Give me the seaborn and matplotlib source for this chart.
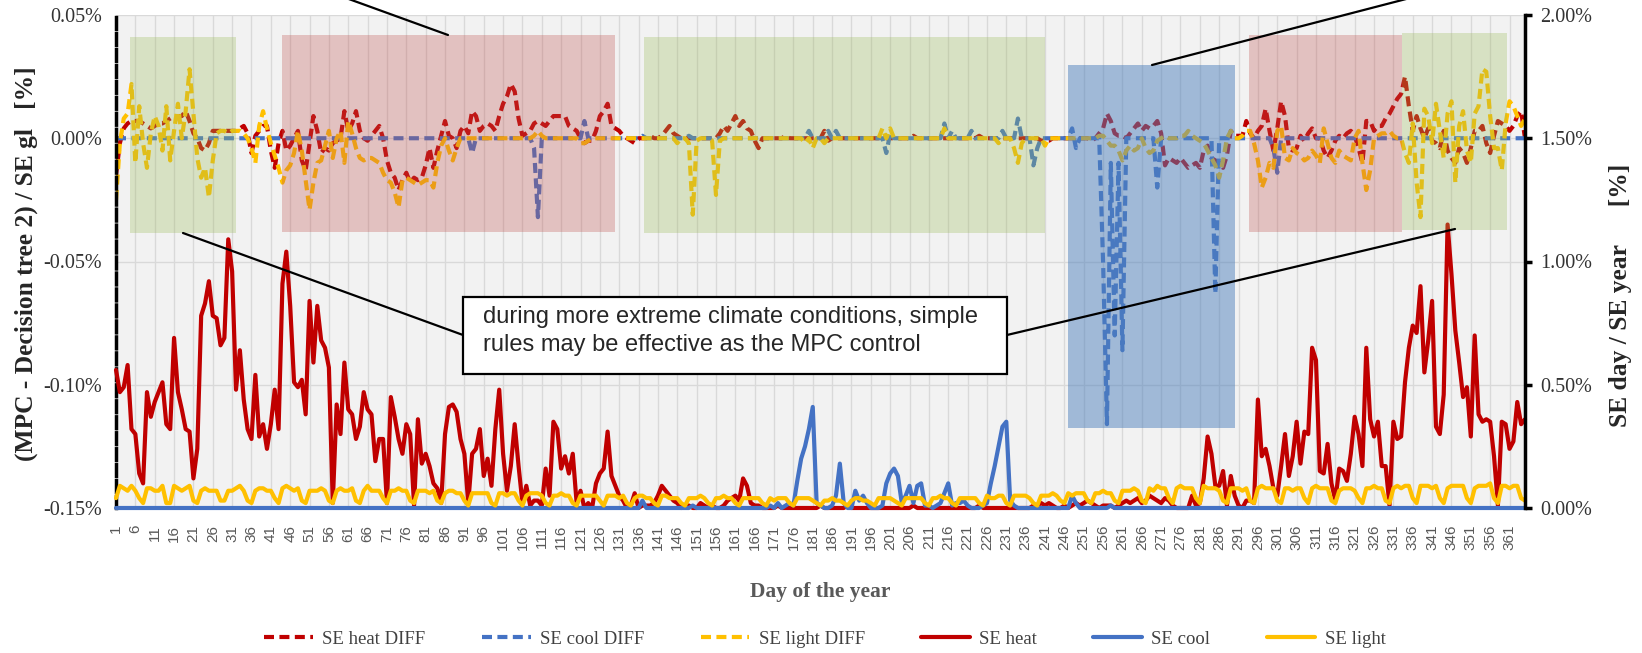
import numpy as np
import pandas as pd
import matplotlib
matplotlib.use("Agg")
import matplotlib.pyplot as plt
from matplotlib.patches import Rectangle
from matplotlib.lines import Line2D
import seaborn as sns

# day of the year (categories on the x axis)
days = np.arange(1, 366)
tick_days = days[::5]

# SE day / SE year [%]  (right axis)
se_heat = [
    0.56, 0.47, 0.49, 0.58, 0.32, 0.30, 0.14, 0.10, 0.47, 0.37,
    0.43, 0.47, 0.51, 0.34, 0.32, 0.69, 0.47, 0.40, 0.32, 0.31,
    0.12, 0.24, 0.78, 0.83, 0.92, 0.78, 0.77, 0.66, 0.69, 1.09,
    0.96, 0.48, 0.64, 0.44, 0.32, 0.28, 0.54, 0.29, 0.34, 0.24,
    0.34, 0.48, 0.32, 0.91, 1.04, 0.82, 0.51, 0.49, 0.52, 0.38,
    0.84, 0.59, 0.82, 0.68, 0.65, 0.57, 0.02, 0.42, 0.30, 0.59,
    0.40, 0.38, 0.28, 0.33, 0.47, 0.40, 0.38, 0.19, 0.28, 0.28,
    0.02, 0.45, 0.37, 0.28, 0.22, 0.34, 0.30, 0.01, 0.36, 0.18,
    0.22, 0.17, 0.10, 0.08, 0.02, 0.30, 0.41, 0.42, 0.39, 0.28,
    0.22, 0.02, 0.22, 0.24, 0.32, 0.13, 0.20, 0.09, 0.32, 0.48,
    0.22, 0.07, 0.17, 0.34, 0.17, 0.02, 0.09, 0.01, 0.03, 0.03,
    0.01, 0.16, 0.05, 0.35, 0.32, 0.16, 0.21, 0.14, 0.22, 0.02,
    0.07, 0.00, 0.02, 0.00, 0.10, 0.14, 0.16, 0.31, 0.13, 0.09,
    0.05, 0.03, 0.00, 0.01, 0.06, 0.00, 0.01, 0.01, 0.01, 0.02,
    0.05, 0.09, 0.07, 0.05, 0.03, 0.02, 0.00, 0.01, 0.01, 0.00,
    0.00, 0.02, 0.01, 0.00, 0.01, 0.00, 0.00, 0.01, 0.03, 0.04,
    0.05, 0.03, 0.12, 0.09, 0.02, 0.01, 0.01, 0.00, 0.00, 0.00,
    0.00, 0.01, 0.00, 0.00, 0.00, 0.00, 0.00, 0.00, 0.00, 0.00,
    0.00, 0.00, 0.01, 0.00, 0.00, 0.00, 0.00, 0.00, 0.00, 0.01,
    0.00, 0.00, 0.00, 0.00, 0.00, 0.00, 0.00, 0.00, 0.00, 0.00,
    0.00, 0.00, 0.00, 0.00, 0.00, 0.00, 0.01, 0.00, 0.00, 0.00,
    0.00, 0.00, 0.00, 0.00, 0.00, 0.00, 0.00, 0.00, 0.00, 0.00,
    0.00, 0.00, 0.00, 0.01, 0.00, 0.00, 0.00, 0.00, 0.00, 0.00,
    0.00, 0.00, 0.00, 0.00, 0.00, 0.00, 0.00, 0.01, 0.01, 0.02,
    0.01, 0.02, 0.01, 0.00, 0.00, 0.01, 0.00, 0.01, 0.02, 0.01,
    0.02, 0.03, 0.02, 0.01, 0.00, 0.01, 0.01, 0.01, 0.00, 0.01,
    0.02, 0.03, 0.02, 0.03, 0.04, 0.02, 0.03, 0.05, 0.04, 0.03,
    0.02, 0.04, 0.03, 0.01, 0.00, 0.00, 0.00, 0.00, 0.05, 0.01,
    0.02, 0.12, 0.29, 0.22, 0.09, 0.09, 0.15, 0.01, 0.13, 0.05,
    0.01, 0.00, 0.03, 0.03, 0.02, 0.44, 0.21, 0.24, 0.17, 0.08,
    0.05, 0.17, 0.30, 0.13, 0.21, 0.35, 0.18, 0.31, 0.30, 0.65,
    0.60, 0.15, 0.14, 0.26, 0.10, 0.03, 0.16, 0.15, 0.11, 0.22,
    0.37, 0.30, 0.17, 0.65, 0.36, 0.29, 0.35, 0.17, 0.17, 0.01,
    0.35, 0.28, 0.29, 0.51, 0.65, 0.74, 0.71, 0.90, 0.55, 0.68,
    0.84, 0.33, 0.30, 0.46, 1.15, 0.95, 0.72, 0.59, 0.45, 0.49,
    0.29, 0.70, 0.38, 0.35, 0.36, 0.35, 0.21, 0.01, 0.35, 0.34,
    0.24, 0.27, 0.43, 0.34, 0.36,
]

se_cool = [
    0.00, 0.00, 0.00, 0.00, 0.00, 0.00, 0.00, 0.00, 0.00, 0.00,
    0.00, 0.00, 0.00, 0.00, 0.00, 0.00, 0.00, 0.00, 0.00, 0.00,
    0.00, 0.00, 0.00, 0.00, 0.00, 0.00, 0.00, 0.00, 0.00, 0.00,
    0.00, 0.00, 0.00, 0.00, 0.00, 0.00, 0.00, 0.00, 0.00, 0.00,
    0.00, 0.00, 0.00, 0.00, 0.00, 0.00, 0.00, 0.00, 0.00, 0.00,
    0.00, 0.00, 0.00, 0.00, 0.00, 0.00, 0.00, 0.00, 0.00, 0.00,
    0.00, 0.00, 0.00, 0.00, 0.00, 0.00, 0.00, 0.00, 0.00, 0.00,
    0.00, 0.00, 0.00, 0.00, 0.00, 0.00, 0.00, 0.00, 0.00, 0.00,
    0.00, 0.00, 0.00, 0.00, 0.00, 0.00, 0.00, 0.00, 0.00, 0.00,
    0.00, 0.00, 0.00, 0.00, 0.00, 0.00, 0.00, 0.00, 0.00, 0.00,
    0.00, 0.00, 0.00, 0.00, 0.00, 0.00, 0.00, 0.00, 0.00, 0.00,
    0.00, 0.00, 0.00, 0.00, 0.00, 0.00, 0.00, 0.00, 0.00, 0.00,
    0.00, 0.00, 0.00, 0.00, 0.00, 0.00, 0.00, 0.00, 0.00, 0.00,
    0.00, 0.00, 0.00, 0.00, 0.00, 0.00, 0.03, 0.00, 0.00, 0.00,
    0.00, 0.00, 0.00, 0.00, 0.00, 0.00, 0.00, 0.00, 0.00, 0.01,
    0.00, 0.00, 0.00, 0.00, 0.00, 0.00, 0.00, 0.00, 0.00, 0.00,
    0.00, 0.00, 0.00, 0.00, 0.00, 0.00, 0.00, 0.00, 0.00, 0.01,
    0.00, 0.02, 0.00, 0.01, 0.02, 0.01, 0.11, 0.20, 0.25, 0.32,
    0.41, 0.02, 0.01, 0.00, 0.00, 0.01, 0.05, 0.18, 0.02, 0.00,
    0.00, 0.07, 0.03, 0.05, 0.02, 0.00, 0.00, 0.00, 0.01, 0.10,
    0.14, 0.16, 0.13, 0.02, 0.05, 0.09, 0.02, 0.09, 0.10, 0.01,
    0.01, 0.00, 0.01, 0.02, 0.06, 0.10, 0.01, 0.02, 0.02, 0.03,
    0.01, 0.00, 0.00, 0.00, 0.01, 0.02, 0.10, 0.17, 0.25, 0.33,
    0.35, 0.03, 0.01, 0.00, 0.00, 0.00, 0.00, 0.00, 0.00, 0.00,
    0.00, 0.00, 0.00, 0.00, 0.00, 0.00, 0.00, 0.05, 0.02, 0.00,
    0.00, 0.00, 0.00, 0.00, 0.00, 0.00, 0.00, 0.01, 0.00, 0.00,
    0.00, 0.00, 0.00, 0.00, 0.00, 0.00, 0.00, 0.00, 0.00, 0.00,
    0.00, 0.00, 0.00, 0.00, 0.00, 0.00, 0.00, 0.00, 0.00, 0.00,
    0.00, 0.00, 0.00, 0.00, 0.00, 0.00, 0.00, 0.00, 0.00, 0.00,
    0.00, 0.00, 0.00, 0.00, 0.00, 0.00, 0.00, 0.00, 0.00, 0.00,
    0.00, 0.00, 0.00, 0.00, 0.00, 0.00, 0.00, 0.00, 0.00, 0.00,
    0.00, 0.00, 0.00, 0.00, 0.00, 0.00, 0.00, 0.00, 0.00, 0.00,
    0.00, 0.00, 0.00, 0.00, 0.00, 0.00, 0.00, 0.00, 0.00, 0.00,
    0.00, 0.00, 0.00, 0.00, 0.00, 0.00, 0.00, 0.00, 0.00, 0.00,
    0.00, 0.00, 0.00, 0.00, 0.00, 0.00, 0.00, 0.00, 0.00, 0.00,
    0.00, 0.00, 0.00, 0.00, 0.00, 0.00, 0.00, 0.00, 0.00, 0.00,
    0.00, 0.00, 0.00, 0.00, 0.00,
]

# one row per week
se_light = [
    0.04, 0.09, 0.08, 0.07, 0.09, 0.07, 0.04,
    0.02, 0.08, 0.08, 0.07, 0.07, 0.09, 0.02,
    0.02, 0.09, 0.08, 0.07, 0.08, 0.09, 0.03,
    0.02, 0.07, 0.08, 0.07, 0.07, 0.07, 0.03,
    0.03, 0.07, 0.07, 0.08, 0.09, 0.07, 0.03,
    0.02, 0.07, 0.08, 0.08, 0.07, 0.07, 0.04,
    0.02, 0.08, 0.09, 0.08, 0.07, 0.08, 0.03,
    0.02, 0.07, 0.07, 0.07, 0.08, 0.07, 0.03,
    0.02, 0.07, 0.08, 0.07, 0.07, 0.08, 0.03,
    0.02, 0.07, 0.09, 0.07, 0.07, 0.07, 0.04,
    0.02, 0.07, 0.07, 0.08, 0.07, 0.07, 0.03,
    0.02, 0.07, 0.07, 0.07, 0.06, 0.07, 0.03,
    0.02, 0.06, 0.07, 0.07, 0.06, 0.06, 0.03,
    0.01, 0.06, 0.06, 0.06, 0.06, 0.06, 0.02,
    0.01, 0.06, 0.06, 0.05, 0.06, 0.06, 0.03,
    0.01, 0.05, 0.06, 0.06, 0.06, 0.05, 0.02,
    0.01, 0.05, 0.05, 0.06, 0.05, 0.05, 0.02,
    0.01, 0.05, 0.05, 0.05, 0.05, 0.05, 0.03,
    0.01, 0.05, 0.05, 0.05, 0.04, 0.05, 0.02,
    0.01, 0.04, 0.05, 0.05, 0.04, 0.04, 0.02,
    0.01, 0.05, 0.05, 0.04, 0.04, 0.04, 0.02,
    0.01, 0.04, 0.04, 0.04, 0.05, 0.04, 0.02,
    0.01, 0.04, 0.04, 0.05, 0.04, 0.04, 0.02,
    0.01, 0.04, 0.04, 0.04, 0.04, 0.04, 0.02,
    0.01, 0.04, 0.03, 0.04, 0.04, 0.04, 0.02,
    0.01, 0.04, 0.04, 0.04, 0.04, 0.03, 0.02,
    0.01, 0.03, 0.03, 0.04, 0.03, 0.03, 0.02,
    0.01, 0.03, 0.04, 0.04, 0.03, 0.03, 0.02,
    0.01, 0.04, 0.04, 0.04, 0.04, 0.03, 0.02,
    0.01, 0.04, 0.04, 0.04, 0.04, 0.04, 0.02,
    0.01, 0.04, 0.04, 0.05, 0.04, 0.04, 0.02,
    0.01, 0.04, 0.04, 0.04, 0.04, 0.04, 0.02,
    0.01, 0.05, 0.04, 0.04, 0.05, 0.05, 0.02,
    0.01, 0.05, 0.05, 0.05, 0.05, 0.04, 0.02,
    0.01, 0.05, 0.05, 0.05, 0.06, 0.05, 0.03,
    0.02, 0.06, 0.05, 0.06, 0.06, 0.06, 0.03,
    0.02, 0.06, 0.06, 0.07, 0.06, 0.06, 0.03,
    0.02, 0.07, 0.07, 0.07, 0.08, 0.07, 0.03,
    0.02, 0.08, 0.07, 0.09, 0.08, 0.08, 0.04,
    0.02, 0.08, 0.09, 0.08, 0.08, 0.08, 0.04,
    0.02, 0.09, 0.08, 0.08, 0.08, 0.07, 0.03,
    0.02, 0.08, 0.08, 0.08, 0.07, 0.08, 0.03,
    0.02, 0.08, 0.09, 0.08, 0.08, 0.08, 0.03,
    0.02, 0.08, 0.08, 0.07, 0.08, 0.08, 0.04,
    0.02, 0.08, 0.09, 0.08, 0.08, 0.08, 0.03,
    0.02, 0.07, 0.08, 0.08, 0.08, 0.07, 0.04,
    0.02, 0.08, 0.08, 0.09, 0.08, 0.08, 0.03,
    0.02, 0.08, 0.09, 0.08, 0.09, 0.09, 0.04,
    0.02, 0.09, 0.09, 0.09, 0.08, 0.09, 0.04,
    0.02, 0.08, 0.09, 0.09, 0.09, 0.09, 0.04,
    0.02, 0.08, 0.09, 0.09, 0.09, 0.10, 0.04,
    0.02, 0.09, 0.09, 0.08, 0.09, 0.09, 0.04,
    0.03,
]

# (MPC - Decision tree 2) / SE gl, in thousandths of a percent (left axis)
heat_diff = [
    -15, -2, 4, 6, 7, 7, 7, 6, 5, 4,
    5, 6, 6, 7, 8, 9, 9, 9, 11, 7,
    2, 0, -4, -5, -2, 3, 3, 3, 3, 3,
    3, 3, 4, 5, 2, -6, 1, 3, 5, 5,
    -5, -12, -2, 3, -5, -3, 0, 3, -9, -13,
    -2, 9, 3, -6, -4, -5, -2, -1, 0, 11,
    3, 6, 11, 3, 0, -1, 1, 3, 5, 0,
    -9, -14, -16, -21, -17, -14, -18, -16, -17, -16,
    -11, -4, -12, -5, 1, 7, 1, 0, -4, 3,
    5, 2, 11, 9, 3, 5, 6, 5, 3, 9,
    14, 17, 22, 19, 8, 1, 2, 3, 6, 7,
    6, 5, 7, 9, 9, 9, 9, 5, 4, 3,
    0, -2, -1, -1, 3, 9, 11, 14, 5, 4,
    3, 1, 0, -1, -2, 0, 0, 0, 1, 0,
    0, 1, 3, 5, 2, 1, 0, 0, 0, 0,
    0, 0, 0, 0, 0, 0, 2, 5, 3, 6,
    9, 5, 7, 4, 3, -1, -4, 0, 0, 0,
    0, 0, 0, 1, 0, 0, 0, 0, 0, 0,
    0, 0, 0, 3, -1, 0, 0, 0, 0, 0,
    0, 0, 0, 0, 0, 0, 0, 0, 1, 0,
    0, 0, 0, 0, 0, 0, 1, 0, 0, 0,
    0, 0, 0, 0, 0, 0, 0, 0, 0, 0,
    0, 0, 0, 1, 0, 0, 0, 0, 0, 0,
    0, 0, 0, 0, 0, 0, 0, 0, 0, -1,
    -1, -1, 0, 0, 0, 0, 0, 0, 0, 0,
    0, 0, -1, 0, 2, 4, 10, 7, 2, 1,
    1, 0, 2, 4, 6, 3, 5, 4, 5, 7,
    2, -11, -8, -9, -10, -8, -10, -12, -11, -10,
    -12, -5, -3, -8, -9, -10, -12, -7, 3, 1,
    1, 1, 7, 2, 0, 3, 5, 12, 3, -5,
    4, 15, 9, -4, -5, -4, 1, -1, 2, 4,
    0, 0, -5, -8, -5, -1, 1, 0, 2, 3,
    1, -4, -10, 7, 7, 3, 5, 5, 8, 10,
    13, 16, 18, 25, 13, 3, 9, 4, 0, 4,
    -1, -2, -4, 3, -5, -8, -10, -4, -6, -10,
    -4, 3, 3, 5, -2, -6, 1, 7, 6, 5,
    3, 5, 9, 11, 0,
]

cool_diff = [
    0, 0, 0, 0, 0, 0, 0, 0, 0, 0,
    0, 0, 0, 0, 0, 0, 0, 0, 0, 0,
    0, 0, 0, 0, 0, 0, 0, 0, 0, 0,
    0, 0, 0, 0, 0, 0, 0, 0, 0, 0,
    0, 0, 0, 0, 0, 0, 0, 0, 0, 0,
    0, 0, 0, 0, 0, 0, 0, 0, 0, 0,
    0, 0, 0, 0, 0, 0, 0, 0, 0, 0,
    0, 0, 0, 0, 0, 0, 0, 0, 0, 0,
    0, 0, 0, 0, 0, 0, 0, 0, 0, 0,
    0, 0, -6, 0, 0, 0, 0, 0, 0, 0,
    0, 0, 0, 0, 0, 0, 0, 0, -4, -32,
    0, 0, 0, 0, 0, 0, 0, 0, 0, 0,
    0, 7, 0, 0, 0, 0, 0, 0, 0, 0,
    0, 0, 0, 0, 0, 0, 1, 0, 0, 0,
    0, 0, 0, 0, 0, 0, 0, 0, 1, 0,
    0, 0, 0, 0, 0, 0, 0, 0, 0, 0,
    0, 0, 0, 0, 0, 0, 0, 0, 0, 0,
    0, 0, 0, 0, 0, 0, 0, 0, 0, 3,
    0, 0, 0, 0, 3, 0, 3, 0, 0, 0,
    0, 0, 0, 0, 0, 0, 0, 0, 0, -6,
    2, 0, 0, 0, 0, 0, 0, 0, 0, 0,
    0, 0, 0, 0, 6, 0, 3, 0, 0, 0,
    0, 3, 0, 0, 0, 0, 0, 0, 0, 3,
    0, 0, 0, 8, 0, 0, 0, -11, -4, 0,
    0, 0, 0, 0, 0, 0, 0, 4, -4, 0,
    0, 0, 0, 0, 0, -50, -116, -10, -80, -10,
    -86, 0, 0, 0, 0, 0, 0, 0, 0, -20,
    0, 0, 0, 0, 0, 0, 0, 0, 0, 0,
    0, 0, 0, 0, -63, 0, 0, 0, 0, 0,
    0, 0, 0, 0, 0, 0, 0, 0, 0, -4,
    -14, 0, 0, 0, 0, 0, 0, 0, 0, 0,
    0, 0, 0, 0, 0, 0, 0, 0, 0, 0,
    0, 0, 0, 0, 0, 0, 0, 0, 0, 0,
    0, 0, 0, 0, 0, 0, 0, 0, 0, 0,
    0, 0, 0, 0, 0, 0, 0, 0, 0, 0,
    0, 0, 0, 0, 0, 0, 0, 0, 0, 0,
    0, 0, 0, 0, 0,
]

light_diff = [
    -25, -2, 8, 10, 22, -10, 13, -2, -12, 2,
    9, 5, -5, 13, -9, 3, 14, 0, 11, 28,
    10, -8, -16, -12, -24, -9, 2, 3, 3, 2,
    3, 3, 3, 2, 0, -4, -10, 5, 11, 4,
    -2, -7, -12, -18, -13, -11, -6, 3, -5, -17,
    -29, -18, -10, -9, -3, 3, -8, 0, 3, -10,
    7, 2, -4, -8, -9, -8, -8, -9, -10, -14,
    -17, -18, -22, -28, -17, -16, -17, -18, -19, -18,
    -17, -17, -20, -10, -3, 0, -5, -9, -4, 0,
    0, 0, 0, 0, 0, 0, 0, 0, 0, 0,
    0, 0, 0, 0, 0, 0, 0, 0, 1, 3,
    1, 0, 0, 0, 0, 0, 0, 0, 0, 0,
    -2, -2, -1, 0, 0, 0, 0, 0, 0, 0,
    0, 0, 0, 0, 0, 0, 0, 0, 0, 0,
    0, 0, 0, 0, 0, -2, 0, 0, -2, -31,
    -1, 0, 0, 0, -1, -23, -1, 0, 0, 0,
    0, 0, 0, 0, 0, 0, 0, 0, 0, 0,
    0, 0, 0, 0, 0, 0, 0, 0, -2, 0,
    -4, 0, 0, -2, 0, 0, 0, 0, 0, 0,
    0, 0, 0, 0, 0, 0, 0, 0, 4, 0,
    4, 0, 0, 0, 0, 0, 0, 0, 0, 0,
    0, 0, 0, 0, 4, 0, 0, 0, 0, 0,
    0, 0, 0, 0, 0, 0, 0, 0, -2, 0,
    0, 0, -4, -10, -2, 0, 0, 0, 0, 0,
    -3, 0, 0, 0, 0, 0, 0, 0, 0, 0,
    0, 0, 0, 0, 1, 1, -1, -3, -3, -5,
    -9, -5, -3, -5, -4, 0, -4, -6, -5, -1,
    0, 1, 0, 0, 0, 1, 1, 3, 1, 0,
    -1, -2, -5, -8, -11, -16, -9, 0, 3, 0,
    0, 1, 3, 3, -2, -9, -20, -16, -10, -12,
    3, 5, -8, -9, -4, -6, -7, -9, -8, -5,
    -7, -10, 4, -2, -8, -10, -5, -7, -8, -9,
    0, 3, -10, -21, -13, 0, 1, 2, 2, 3,
    1, 0, 0, -6, -10, 6, -18, -32, 12, 9,
    -2, 14, 3, -8, 10, 15, -18, 5, 11, -5,
    -10, 10, 13, 28, 27, 9, -4, -4, -13, 6,
    15, 13, 9, 5, 8,
]

df = pd.DataFrame({
    "day": days,
    "SE heat DIFF": np.array(heat_diff) / 1000,
    "SE cool DIFF": np.array(cool_diff) / 1000,
    "SE light DIFF": np.array(light_diff) / 1000,
    "SE heat": se_heat,
    "SE cool": se_cool,
    "SE light": se_light,
})

RED, BLUE, GOLD = "#C00000", "#4472C4", "#FFC000"
W, H = 1642, 653

sns.set_theme(style="white")
plt.rcParams["font.family"] = ["Liberation Serif", "DejaVu Serif"]

fig = plt.figure(figsize=(W / 100, H / 100), dpi=100)
ax = fig.add_axes([116 / W, 1 - 508 / H, 1409 / W, 493 / H])
ax2 = ax.twinx()
ax.set_facecolor("#F2F2F2")

dash = (0, (2.4, 1.3))
for col, c in [("SE heat DIFF", RED), ("SE cool DIFF", BLUE), ("SE light DIFF", GOLD)]:
    sns.lineplot(data=df, x="day", y=col, ax=ax, color=c, lw=3, linestyle=dash,
                 label=col, legend=False, errorbar=None)
for col, c in [("SE heat", RED), ("SE cool", BLUE), ("SE light", GOLD)]:
    sns.lineplot(data=df, x="day", y=col, ax=ax2, color=c, lw=3,
                 label=col, legend=False, errorbar=None, clip_on=False)

# shaded periods (drawn over the lines, in left-axis units)
boxes = [
    (4.6, 32.0, -0.0384, 0.0411, "#9BBB59", 0.3),
    (43.8, 129.9, -0.0380, 0.0419, "#C0504D", 0.3),
    (137.5, 241.0, -0.0384, 0.0411, "#9BBB59", 0.3),
    (247.0, 290.1, -0.1175, 0.0297, "#4F81BD", 0.5),
    (293.8, 333.2, -0.0380, 0.0419, "#C0504D", 0.3),
    (333.2, 360.4, -0.0372, 0.0426, "#9BBB59", 0.3),
]
for x0, x1, y0, y1, c, a in boxes:
    ax2.add_patch(Rectangle((x0, y0), x1 - x0, y1 - y0, transform=ax.transData,
                            fc=c, alpha=a, lw=0, zorder=5))

ax.set_xlim(1, 365)
ax.set_ylim(-0.15, 0.05)
ax2.set_ylim(0, 2.0)

ax.set_yticks([-0.15, -0.10, -0.05, 0.0, 0.05])
ax.set_yticklabels([f"{v:.2f}%" for v in [-0.15, -0.10, -0.05, 0.0, 0.05]])
ax2.set_yticks([0, 0.5, 1.0, 1.5, 2.0])
ax2.set_yticklabels([f"{v:.2f}%" for v in [0, 0.5, 1.0, 1.5, 2.0]])
ax.set_xticks(tick_days)
ax.set_xticklabels([str(d) for d in tick_days], rotation=90, fontsize=11,
                   color="#595959", family=["Liberation Sans"])

ax.grid(True, color="#D9D9D9", lw=1)
ax.set_axisbelow(True)
ax2.grid(False)
ax.set_xlabel("")
ax.set_ylabel("")
ax2.set_ylabel("")

ax.tick_params(axis="y", length=0, labelsize=14.5, labelcolor="#333333", pad=10)
ax.tick_params(axis="x", length=0, pad=12)
ax2.tick_params(axis="y", length=5, width=2.5, direction="out", color="black",
                labelsize=14.5, labelcolor="#333333", pad=6)

for s in ["top", "bottom", "right"]:
    ax.spines[s].set_visible(False)
ax.spines["left"].set_color("black")
ax.spines["left"].set_linewidth(2.5)
ax.spines["left"].set_linestyle((0, (3.4, 1.2)))
for s in ["top", "bottom", "left"]:
    ax2.spines[s].set_visible(False)
ax2.spines["right"].set_color("black")
ax2.spines["right"].set_linewidth(2.5)

# axis titles
fig.text(26 / W, 1 - 264 / H, "(MPC - Decision tree 2) / SE gl   [%]", rotation=90,
         ha="center", va="center", fontsize=18.4, fontweight="bold")
fig.text(1620 / W, 1 - 295 / H, "SE day / SE year      [%]", rotation=90,
         ha="center", va="center", fontsize=18.4, fontweight="bold")
fig.text(820 / W, 1 - 592 / H, "Day of the year", ha="center", va="center",
         fontsize=15.5, fontweight="bold", color="#595959")

# call-out lines and text box
def fp(x, y):
    return x / W, 1 - y / H

for (xa, ya), (xb, yb) in [((183, 233), (463, 335)), ((1007, 335), (1455, 229)),
                           ((346, -2), (448, 35)), ((1152, 65), (1410, -2))]:
    (fx0, fy0), (fx1, fy1) = fp(xa, ya), fp(xb, yb)
    fig.add_artist(Line2D([fx0, fx1], [fy0, fy1], transform=fig.transFigure,
                          color="black", lw=1.6))

bx, by = fp(463, 374)
fig.add_artist(Rectangle((bx, by), 544 / W, 77 / H, transform=fig.transFigure,
                         fc="white", ec="black", lw=1.6, zorder=6))
fig.text(483 / W, 1 - 331 / H,
         "during more extreme climate conditions, simple\nrules may be effective as the MPC control",
         ha="left", va="center", fontsize=17, family=["Liberation Sans"],
         linespacing=1.35, zorder=7)

handles = ax.get_lines() + ax2.get_lines()
labels = [h.get_label() for h in handles]
fig.legend(handles, labels, loc="center", bbox_to_anchor=(825 / W, 1 - 639 / H),
           ncol=6, frameon=False, fontsize=13.5, handlelength=2.6,
           columnspacing=3.0, handletextpad=0.5, labelcolor="#404040")

fig.savefig("out.png", dpi=100)
